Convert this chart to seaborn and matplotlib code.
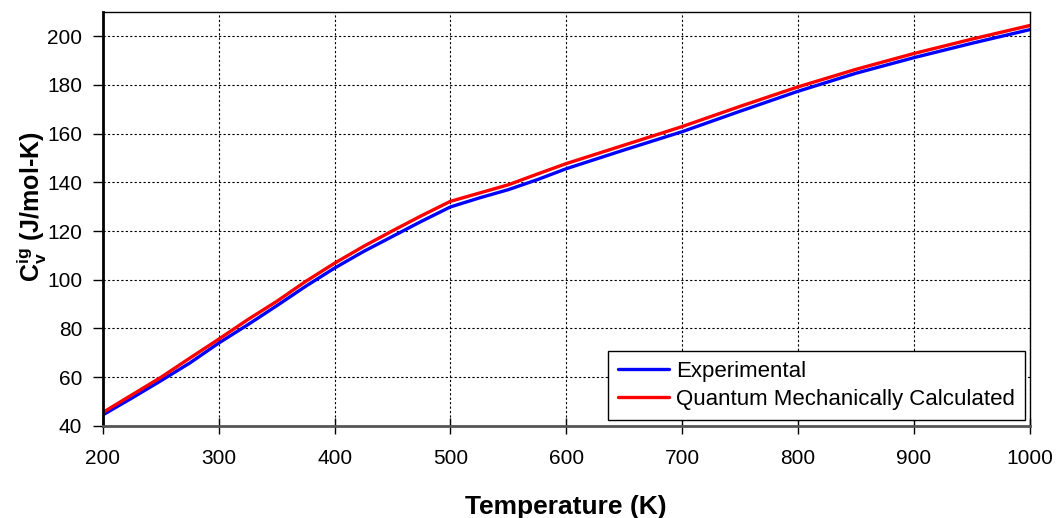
import matplotlib
matplotlib.use("Agg")
import matplotlib.pyplot as plt
import seaborn as sb
import pandas as pd

# temperature (K) and heat capacity values
temps = [200, 225, 250, 275, 300, 325, 350, 375, 400, 425, 450, 475, 500, 525, 550, 575, 600,
         650, 700, 750, 800, 850, 900, 950, 1000]
experimental = [44.5, 51.4, 58.5, 65.8, 74.0, 81.5, 89.3, 97.3, 104.8, 111.6, 117.8, 124.0, 129.9,
                133.6, 137.0, 141.1, 145.6, 153.3, 160.8, 169.2, 177.4, 184.8, 191.2, 197.1, 202.7]
quantum = [45.5, 52.7, 59.9, 67.8, 75.6, 83.6, 91.1, 99.3, 106.8, 113.7, 120.1, 126.3, 132.2,
           135.6, 139.0, 143.4, 147.7, 155.3, 162.9, 171.2, 179.2, 186.4, 192.9, 198.8, 204.4]

sb.set_style("white")
plt.rcParams['font.family'] = ['Liberation Sans', 'DejaVu Sans']
plt.rcParams['mathtext.fontset'] = 'custom'
plt.rcParams['mathtext.rm'] = 'Liberation Sans'
plt.rcParams['mathtext.bf'] = 'Liberation Sans:bold'
plt.rcParams['text.color'] = 'black'
plt.rcParams['axes.labelcolor'] = 'black'
plt.rcParams['xtick.color'] = 'black'
plt.rcParams['ytick.color'] = 'black'

df = pd.DataFrame({"T": temps * 2,
                   "Cv": experimental + quantum,
                   "series": ["Experimental"] * len(temps) + ["Quantum Mechanically Calculated"] * len(temps)})

fig = plt.figure(figsize=(10.56, 5.18), dpi=100)
ax = fig.add_axes([0.0975, 0.178, 0.8775, 0.799])
sb.lineplot(data=df, x="T", y="Cv", hue="series", palette=["#0000ff", "#ff0000"],
            linewidth=2.4, ax=ax)

ax.set_xlim(200, 1000)
ax.set_ylim(40, 210)
ax.set_xticks(range(200, 1001, 100))
ax.set_yticks(range(40, 201, 20))
ax.grid(True, color="black", linestyle=(0, (2, 2)), linewidth=0.8)
ax.tick_params(axis="x", labelsize=15, direction="inout", length=12, width=1, bottom=True, pad=11)
ax.tick_params(axis="y", labelsize=15, direction="out", length=7, width=1, left=True, pad=8)
for side in ["top", "right"]:
    ax.spines[side].set_color("black")
    ax.spines[side].set_linewidth(1)
ax.spines["left"].set_color("black")
ax.spines["left"].set_linewidth(2)
ax.spines["bottom"].set_color("#555555")
ax.spines["bottom"].set_linewidth(2)

ax.set_xlabel("Temperature (K)", fontsize=19, fontweight="bold", labelpad=19)
ax.set_ylabel(r"$\mathbf{C_v^{ig}}$ (J/mol-K)", fontsize=18, fontweight="bold")
ax.yaxis.set_label_coords(-0.058, 0.53)

leg = ax.legend(loc="lower right", fontsize=16, frameon=True, fancybox=False,
                edgecolor="black", framealpha=1, borderpad=0.45, handlelength=2.3,
                handletextpad=0.3, labelspacing=0.3, borderaxespad=0,
                bbox_to_anchor=(0.9946, 0.0145))
leg.get_frame().set_linewidth(1)

plt.savefig("out.png", dpi=100)
